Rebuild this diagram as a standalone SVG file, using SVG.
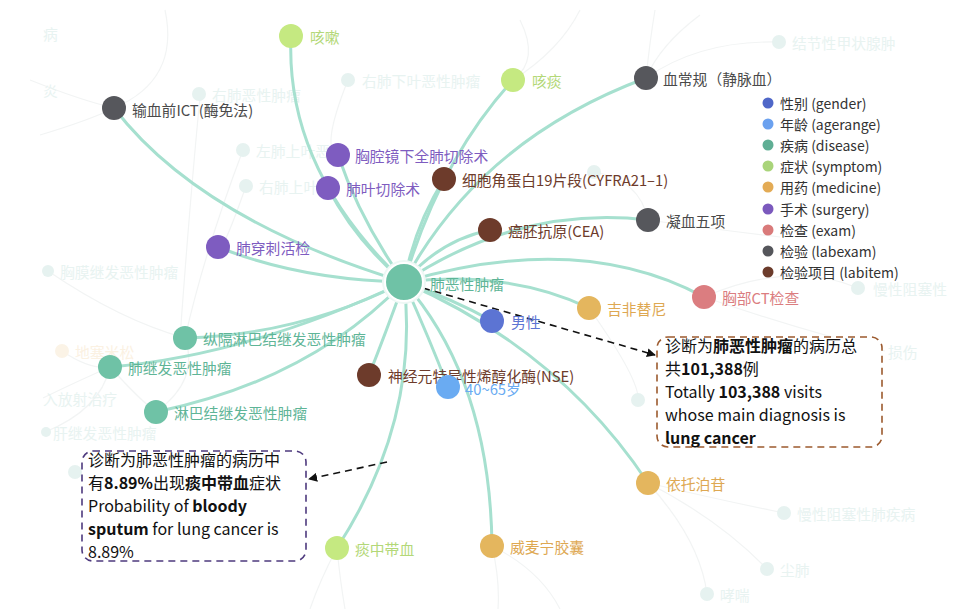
<svg xmlns="http://www.w3.org/2000/svg" width="970" height="609" viewBox="0 0 970 609">
<defs>
<style>
text{font-family:"Noto Sans CJK SC","Liberation Sans",sans-serif;}
.lbl{font-size:14.8px;dominant-baseline:central;}
.faint{font-size:14.8px;dominant-baseline:central;fill:#e8f3f1;}
.fdot{fill:#e6f2f0;}
.bg{fill:none;stroke:#f2f4f4;stroke-width:1.2;}
.edge{fill:none;stroke:#a6e0cf;stroke-width:3;}
.leg{font-size:14px;dominant-baseline:central;fill:#333;}
.box{font-size:16px;fill:#111;}
.b{font-weight:bold;}
.dis{fill:#6fc2a6;} .dist{fill:#5fb597;}
.sym{fill:#c5e981;} .symt{fill:#b3d878;}
.sur{fill:#7e5cc0;}
.lab{fill:#56575c;} .labt{fill:#4a4a4a;}
.itm{fill:#6d3b2b;}
.med{fill:#e4b65e;} .medt{fill:#dea852;}
.exa{fill:#db7d80;}
.gen{fill:#5c74d3;}
.age{fill:#6aabf2;}
</style>
<marker id="ah" viewBox="0 0 10 10" refX="9" refY="5" markerWidth="9" markerHeight="9" orient="auto" markerUnits="userSpaceOnUse">
<path d="M0,0 L10,5 L0,10 z" fill="#111"/>
</marker>
</defs>
<rect width="970" height="609" fill="#fff"/>

<!-- faint background -->
<g id="background">
<path class="bg" d="M165,10 Q180,80 114,108"/>
<path class="bg" d="M30,80 Q80,100 114,108"/>
<path class="bg" d="M40,135 Q90,120 114,108"/>
<path class="bg" d="M200,97 Q190,200 180,338"/>
<path class="bg" d="M243,150 Q205,250 185,338"/>
<path class="bg" d="M246,186 Q220,260 218,247"/>
<path class="bg" d="M348,80 Q320,150 338,155"/>
<path class="bg" d="M520,20 Q540,60 513,80"/>
<path class="bg" d="M580,10 Q560,50 513,80"/>
<path class="bg" d="M655,10 Q650,40 646,78"/>
<path class="bg" d="M700,15 Q660,45 646,78"/>
<path class="bg" d="M779,42 Q700,40 646,78"/>
<path class="bg" d="M594,172 Q640,180 648,220"/>
<path class="bg" d="M648,220 Q720,230 780,237"/>
<path class="bg" d="M704,297 Q790,260 858,288"/>
<path class="bg" d="M704,297 Q800,330 885,351"/>
<path class="bg" d="M589,308 Q640,380 638,400"/>
<path class="bg" d="M48,271 Q120,320 185,338"/>
<path class="bg" d="M62,351 Q90,370 110,367"/>
<path class="bg" d="M43,398 Q80,380 110,367"/>
<path class="bg" d="M45,432 Q100,410 110,367"/>
<path class="bg" d="M110,367 Q140,400 156,412"/>
<path class="bg" d="M185,338 Q200,380 156,412"/>
<path class="bg" d="M648,483 Q720,500 784,513"/>
<path class="bg" d="M648,483 Q720,520 767,569"/>
<path class="bg" d="M648,483 Q700,540 707,594"/>
<path class="bg" d="M337,548 Q320,580 310,609"/>
<path class="bg" d="M337,548 Q340,580 345,609"/>
<path class="bg" d="M492,546 Q500,580 498,609"/>
<path class="bg" d="M492,546 Q540,570 560,609"/>
<circle class="fdot" cx="199" cy="94" r="7"/><text class="faint" x="212" y="94">右肺恶性肿瘤</text>
<circle class="fdot" cx="348" cy="80" r="7"/><text class="faint" x="362" y="80">右肺下叶恶性肿瘤</text>
<circle class="fdot" cx="243" cy="150" r="7"/><text class="faint" x="256" y="150">左肺上叶恶</text>
<circle class="fdot" cx="246" cy="186" r="7"/><text class="faint" x="259" y="186">右肺上叶</text>
<circle class="fdot" cx="779" cy="42" r="7"/><text class="faint" x="792" y="42">结节性甲状腺肿</text>
<circle class="fdot" cx="594" cy="172" r="7"/>
<circle class="fdot" cx="858" cy="288" r="7"/><text class="faint" x="873" y="288">慢性阻塞性</text>
<text class="faint" x="888" y="351">损伤</text>
<circle class="fdot" cx="638" cy="400" r="7"/>
<circle class="fdot" cx="48" cy="271" r="6"/><text class="faint" x="60" y="271">胸膜继发恶性肿瘤</text>
<circle cx="62" cy="351" r="7" fill="#fbf3e6"/><text class="faint" x="75" y="351" style="fill:#fbf1e2">地塞米松</text>
<text class="faint" x="43" y="398">入放射治疗</text>
<circle class="fdot" cx="46" cy="432" r="5"/><text class="faint" x="53" y="432">肝继发恶性肿瘤</text>
<circle class="fdot" cx="75" cy="472" r="7"/>
<circle class="fdot" cx="784" cy="513" r="7"/><text class="faint" x="797" y="513">慢性阻塞性肺疾病</text>
<circle class="fdot" cx="767" cy="569" r="7"/><text class="faint" x="780" y="569">尘肺</text>
<circle class="fdot" cx="707" cy="594" r="7"/><text class="faint" x="720" y="594">哮喘</text>
<text class="faint" x="43" y="33">病</text>
<text class="faint" x="43" y="90">炎</text>
</g>

<!-- connectors -->
<g id="connectors">
<path class="edge" d="M404,282 Q285,170 291,36"/>
<path class="edge" d="M404,282 Q440,160 513,80"/>
<path class="edge" d="M404,282 Q480,140 646,78"/>
<path class="edge" d="M404,282 Q200,220 114,108"/>
<path class="edge" d="M404,282 Q360,220 338,155"/>
<path class="edge" d="M404,282 Q355,240 328,188"/>
<path class="edge" d="M404,282 Q415,225 444,179"/>
<path class="edge" d="M404,282 Q440,240 490,230"/>
<path class="edge" d="M404,282 Q520,205 648,220"/>
<path class="edge" d="M404,282 Q580,230 704,297"/>
<path class="edge" d="M404,282 Q510,270 589,308"/>
<path class="edge" d="M404,282 Q455,300 492,321"/>
<path class="edge" d="M404,282 Q560,350 648,483"/>
<path class="edge" d="M404,282 Q490,380 492,546"/>
<path class="edge" d="M404,282 Q430,340 448,387"/>
<path class="edge" d="M404,282 Q385,335 369,375"/>
<path class="edge" d="M404,282 Q420,420 337,548"/>
<path class="edge" d="M404,282 Q310,380 156,412"/>
<path class="edge" d="M404,282 Q250,355 110,367"/>
<path class="edge" d="M404,282 Q300,335 185,338"/>
<path class="edge" d="M404,282 Q300,280 218,247"/>
<path d="M423,288 L655,355" fill="none" stroke="#111" stroke-width="1.6" stroke-dasharray="7,5" marker-end="url(#ah)"/>
<path d="M387,462 L309,479" fill="none" stroke="#111" stroke-width="1.6" stroke-dasharray="7,5" marker-end="url(#ah)"/>
</g>

<!-- nodes -->
<g id="n-center"><circle cx="404" cy="282" r="22" fill="#eef8f5"/><circle cx="404" cy="282" r="19" class="dis" stroke="#fff" stroke-width="2"/><text class="lbl dist" x="430" y="283">肺恶性肿瘤</text></g>
<g id="n-kesou"><circle cx="291" cy="36" r="12" class="sym"/><text class="lbl symt" x="310" y="36">咳嗽</text></g>
<g id="n-ketan"><circle cx="513" cy="80" r="12" class="sym"/><text class="lbl symt" x="532" y="80">咳痰</text></g>
<g id="n-xuechanggui"><circle cx="646" cy="78" r="12" class="lab"/><text class="lbl labt" x="663" y="78">血常规（静脉血）</text></g>
<g id="n-ict"><circle cx="114" cy="108" r="12" class="lab"/><text class="lbl labt" x="132" y="109">输血前ICT(酶免法)</text></g>
<g id="n-qiangjing"><circle cx="338" cy="155" r="12" class="sur"/><text class="lbl sur" x="355" y="155">胸腔镜下全肺切除术</text></g>
<g id="n-feiye"><circle cx="328" cy="188" r="12" class="sur"/><text class="lbl sur" x="346" y="188">肺叶切除术</text></g>
<g id="n-cyfra"><circle cx="444" cy="179" r="12" class="itm"/><text class="lbl itm" x="462" y="179">细胞角蛋白19片段(CYFRA21–1)</text></g>
<g id="n-cea"><circle cx="490" cy="230" r="12" class="itm"/><text class="lbl itm" x="508" y="230">癌胚抗原(CEA)</text></g>
<g id="n-ningxue"><circle cx="648" cy="220" r="12" class="lab"/><text class="lbl labt" x="666" y="220">凝血五项</text></g>
<g id="n-chuanci"><circle cx="218" cy="247" r="12" class="sur"/><text class="lbl sur" x="236" y="247">肺穿刺活检</text></g>
<g id="n-jifei"><circle cx="589" cy="308" r="12" class="med"/><text class="lbl medt" x="607" y="308">吉非替尼</text></g>
<g id="n-ct"><circle cx="704" cy="297" r="12" class="exa"/><text class="lbl exa" x="722" y="297">胸部CT检查</text></g>
<g id="n-male"><circle cx="492" cy="321" r="12" class="gen"/><text class="lbl gen" x="511" y="321">男性</text></g>
<g id="n-zongge"><circle cx="185" cy="338" r="12" class="dis"/><text class="lbl dist" x="203" y="338">纵隔淋巴结继发恶性肿瘤</text></g>
<g id="n-feijifa"><circle cx="110" cy="367" r="12" class="dis"/><text class="lbl dist" x="128" y="367">肺继发恶性肿瘤</text></g>
<g id="n-linba"><circle cx="156" cy="412" r="12" class="dis"/><text class="lbl dist" x="174" y="412">淋巴结继发恶性肿瘤</text></g>
<g id="n-nse"><circle cx="369" cy="375" r="12" class="itm"/><text class="lbl itm" x="388" y="375">神经元特异性烯醇化酶(NSE)</text></g>
<g id="n-age"><circle cx="448" cy="387" r="12" class="age"/><text class="lbl age" x="465" y="388">40~65岁</text></g>
<g id="n-yituo"><circle cx="648" cy="483" r="12" class="med"/><text class="lbl medt" x="666" y="483">依托泊苷</text></g>
<g id="n-tanxue"><circle cx="337" cy="548" r="12" class="sym"/><text class="lbl symt" x="355" y="548">痰中带血</text></g>
<g id="n-weimai"><circle cx="492" cy="546" r="12" class="med"/><text class="lbl medt" x="510" y="546">威麦宁胶囊</text></g>

<!-- legend -->
<g id="legend">
<circle cx="768" cy="103" r="5.5" fill="#4f67c8"/><text class="leg" x="780" y="103">性别 (gender)</text>
<circle cx="768" cy="124" r="5.5" fill="#6ba1ef"/><text class="leg" x="780" y="124">年龄 (agerange)</text>
<circle cx="768" cy="145" r="5.5" fill="#5fae94"/><text class="leg" x="780" y="145">疾病 (disease)</text>
<circle cx="768" cy="166" r="5.5" fill="#a9d47a"/><text class="leg" x="780" y="166">症状 (symptom)</text>
<circle cx="768" cy="187" r="5.5" fill="#e3ab55"/><text class="leg" x="780" y="187">用药 (medicine)</text>
<circle cx="768" cy="209" r="5.5" fill="#7b59bd"/><text class="leg" x="780" y="209">手术 (surgery)</text>
<circle cx="768" cy="230" r="5.5" fill="#d97a7a"/><text class="leg" x="780" y="230">检查 (exam)</text>
<circle cx="768" cy="251" r="5.5" fill="#55565b"/><text class="leg" x="780" y="251">检验 (labexam)</text>
<circle cx="768" cy="272" r="5.5" fill="#6b3b2b"/><text class="leg" x="780" y="272">检验项目 (labitem)</text>
</g>

<!-- annotation boxes -->
<g id="note-total">
<rect x="657" y="337" width="225" height="110" rx="11" fill="#fff" stroke="#9c5a2e" stroke-width="1.6" stroke-dasharray="7,5"/>
<text class="box" x="665" y="352">诊断为<tspan class="b">肺恶性肿瘤</tspan>的病历总</text>
<text class="box" x="665" y="375">共<tspan class="b">101,388</tspan>例</text>
<text class="box" x="665" y="398">Totally <tspan class="b">103,388</tspan> visits</text>
<text class="box" x="665" y="421">whose main diagnosis is</text>
<text class="box" x="665" y="444"><tspan class="b">lung cancer</tspan></text>
</g>
<g id="note-blood">
<rect x="82" y="451" width="224" height="110" rx="11" fill="#fff" stroke="#4e3a7e" stroke-width="1.6" stroke-dasharray="7,5"/>
<text class="box" x="88" y="466">诊断为肺恶性肿瘤的病历中</text>
<text class="box" x="88" y="489">有<tspan class="b">8.89%</tspan>出现<tspan class="b">痰中带血</tspan>症状</text>
<text class="box" x="88" y="512">Probability of <tspan class="b">bloody</tspan></text>
<text class="box" x="88" y="535"><tspan class="b">sputum</tspan> for lung cancer is</text>
<text class="box" x="88" y="558">8.89%</text>
</g>
</svg>
